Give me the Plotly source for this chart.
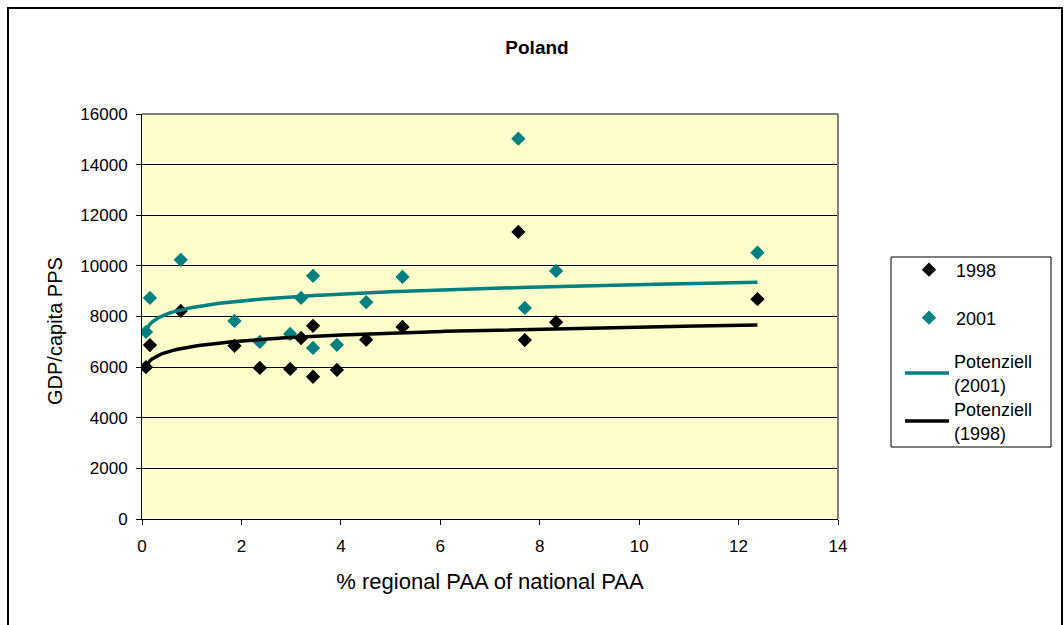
import numpy as np
import plotly.graph_objects as go

# Data
paa_share = [0.08, 0.16, 0.78, 1.86, 2.37, 2.98, 3.20, 3.44, 3.44, 3.92, 4.51, 5.24, 7.57, 7.70, 8.33, 12.38]
gdp_1998 = [6000, 6870, 8220, 6840, 5970, 5930, 7150, 7630, 5620, 5890, 7085, 7590, 11340, 7070, 7775, 8685]
gdp_2001 = [7390, 8735, 10240, 7825, 6995, 7310, 8735, 9605, 6760, 6880, 8565, 9565, 15025, 8340, 9800, 10520]

x_ticks = [0, 2, 4, 6, 8, 10, 12, 14]
y_ticks = [0, 2000, 4000, 6000, 8000, 10000, 12000, 14000, 16000]
y_tick_text = [str(v) for v in y_ticks]


def power_fit(x, y):
    lx, ly = np.log(np.asarray(x)), np.log(np.asarray(y))
    b, la = np.polyfit(lx, ly, 1)
    xs = np.linspace(min(x), max(x), 300)
    return xs, np.exp(la) * xs ** b


TEAL = "#008080"
FONT = "Liberation Sans, Arial, sans-serif"

L, R, T, B = 142, 226, 114, 106
W, H = 1064, 625
pw, ph = W - L - R, H - T - B


def px(xp):
    return (xp - L) / pw


def py(yp):
    return 1 - (yp - T) / ph


fig = go.Figure()
fig.add_trace(go.Scatter(x=paa_share, y=gdp_1998, mode="markers", name="1998",
                         legend="legend",
                         marker=dict(symbol="diamond", size=11, color="black")))
fig.add_trace(go.Scatter(x=paa_share, y=gdp_2001, mode="markers", name="2001",
                         legend="legend2",
                         marker=dict(symbol="diamond", size=11, color=TEAL)))
xs, ys = power_fit(paa_share, gdp_2001)
fig.add_trace(go.Scatter(x=xs, y=ys, mode="lines", name="Potenziell<br>(2001)",
                         legend="legend3", line=dict(color=TEAL, width=3.5)))
xs, ys = power_fit(paa_share, gdp_1998)
fig.add_trace(go.Scatter(x=xs, y=ys, mode="lines", name="Potenziell<br>(1998)",
                         legend="legend4", line=dict(color="black", width=3.5)))


def leg(yc, xl=900):
    return dict(x=px(xl), y=py(yc), xanchor="left", yanchor="middle",
                bgcolor="rgba(0,0,0,0)", borderwidth=0, itemwidth=44,
                font=dict(size=18, family=FONT, color="black"))


fig.update_layout(
    width=W, height=H,
    margin=dict(l=L, r=R, t=T, b=B),
    paper_bgcolor="white",
    plot_bgcolor="#FFFFCC",
    font=dict(family=FONT, size=17, color="black"),
    title=dict(text="<b>Poland</b>", xref="container", x=537 / W, xanchor="center",
               yref="container", y=1 - 47 / H, yanchor="middle", font=dict(size=19)),
    showlegend=True,
    legend=leg(270, 902),
    legend2=leg(318, 902),
    legend3=leg(373),
    legend4=leg(421),
    annotations=[
        dict(text="GDP/capita PPS", xref="paper", yref="paper",
             x=px(55), y=py(331), xanchor="center", yanchor="middle",
             textangle=-90, showarrow=False, font=dict(size=20)),
    ],
    shapes=[
        dict(type="rect", xref="paper", yref="paper",
             x0=px(8), x1=px(1062), y0=py(640), y1=py(8),
             line=dict(color="black", width=2), layer="below"),
        dict(type="rect", xref="paper", yref="paper",
             x0=px(891), x1=px(1051), y0=py(447), y1=py(257),
             line=dict(color="black", width=1), fillcolor="white", layer="below"),
        dict(type="line", xref="paper", yref="paper", x0=0, x1=1, y0=1, y1=1,
             line=dict(color="#808080", width=2)),
        dict(type="line", xref="paper", yref="paper", x0=1, x1=1, y0=0, y1=1,
             line=dict(color="#808080", width=2)),
    ],
)
fig.update_xaxes(range=[0, 14], tickvals=x_ticks, ticks="outside", ticklen=5,
                 tickcolor="black", showline=True, linecolor="black", linewidth=1,
                 showgrid=False, zeroline=False, tickfont=dict(size=17),
                 ticklabelstandoff=7,
                 title=dict(text="% regional PAA of national PAA", font=dict(size=22),
                            standoff=18))
fig.update_yaxes(range=[0, 16000], tickvals=y_ticks, ticktext=y_tick_text,
                 ticks="outside", ticklen=5,
                 tickcolor="black", showline=True, linecolor="black", linewidth=1,
                 showgrid=True, gridcolor="black", gridwidth=1, zeroline=False,
                 tickfont=dict(size=17), ticklabelstandoff=5)

fig.write_html("out.html")
